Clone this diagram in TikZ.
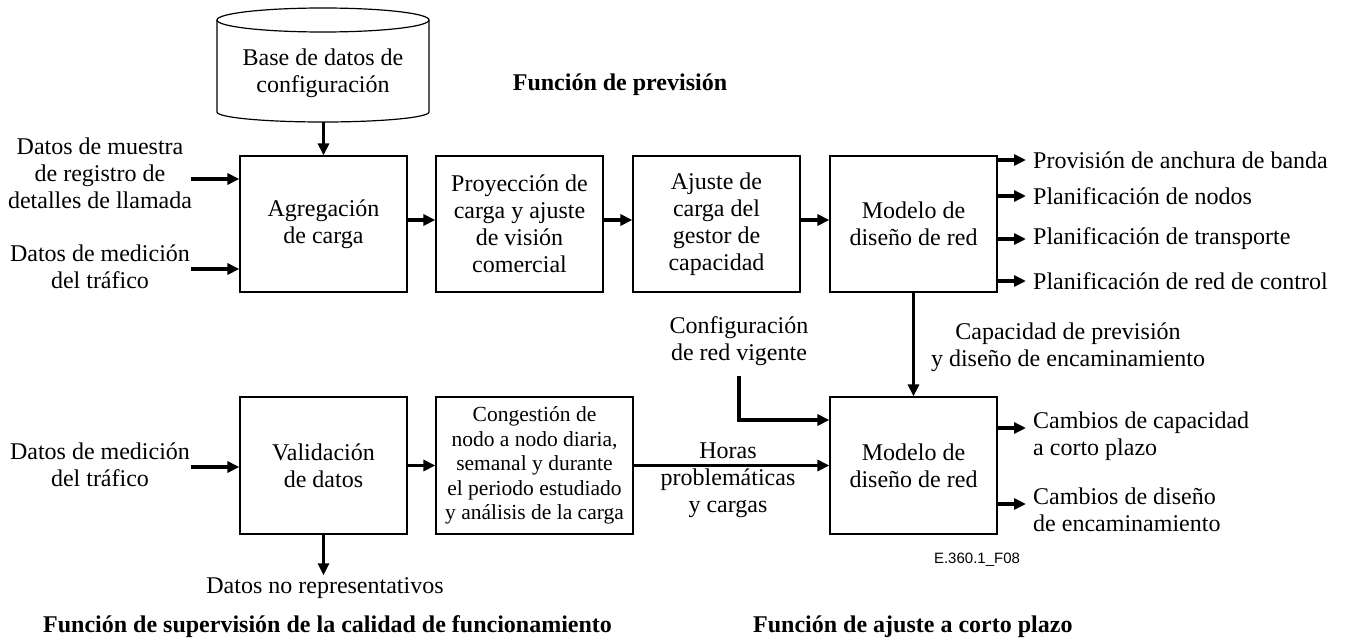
\documentclass[tikz,border=0pt]{standalone}
\usepackage{fontspec}
\setmainfont{Liberation Serif}
\newfontfamily\figsans{Liberation Sans}
\usetikzlibrary{arrows.meta,calc}
\begin{document}
\begin{tikzpicture}[x=1pt,y=-1pt,
  box/.style={draw,line width=1.2pt,minimum width=167pt,minimum height=136pt,inner sep=2pt,align=center,font=\fontsize{24}{27}\selectfont},
  txt/.style={align=center,inner sep=2pt,font=\fontsize{24}{27}\selectfont},
  arr/.style={line width=3.5pt,-{Triangle[length=12pt,width=11pt]}},
  outarr/.style={arr,shorten >=5pt},
  ttl/.style={font=\fontsize{24}{27}\selectfont\bfseries,inner sep=0pt}]
\useasboundingbox (0,0) rectangle (1346,642);

% boxes
\node[box] (agg) at (323.5,224) {Agregación\\de carga};
\node[box] (proy) at (519.5,224) {Proyección de\\carga y ajuste\\de visión\\comercial};
\node[box] (ajus) at (716.5,224) {Ajuste de\\carga del\\gestor de\\capacidad};
\node[box] (mt) at (913.5,224) {Modelo de\\diseño de red};
\node[box,minimum height=137pt] (val) at (323.5,465.5) {Validación\\de datos};
\node[box,minimum width=197pt,minimum height=137pt,font=\fontsize{21.5}{24.5}\selectfont] (cong) at (534.5,465.5) {Congestión de\\nodo a nodo diaria,\\semanal y durante\\el periodo estudiado\\y análisis de la carga};
\node[box,minimum height=137pt] (mb) at (913.5,465.5) {Modelo de\\diseño de red};

% database cylinder
\draw[line width=1.2pt] (323,20) ellipse[x radius=106pt,y radius=12pt];
\draw[line width=1.2pt] (217,20) -- (217,112) arc[start angle=180,end angle=360,x radius=106pt,y radius=10pt] -- (429,20);
\node[txt] (db) at (323,73.5) {Base de datos de\\configuración};
\coordinate (dbb) at (323.5,122);
\draw[arr] (dbb) -- (dbb |- agg.north);

% top chain
\draw[arr] ([yshift=4pt]agg.east) -- ([yshift=4pt]proy.west);
\draw[arr] ([yshift=4pt]proy.east) -- ([yshift=4pt]ajus.west);
\draw[arr] ([yshift=4pt]ajus.east) -- ([yshift=4pt]mt.west);

% inputs
\node[txt] (in1) at (100,173) {Datos de muestra\\de registro de\\detalles de llamada};
\node[txt] (in2) at (100,266.5) {Datos de medición\\del tráfico};
\node[txt] (in3) at (100,465) {Datos de medición\\del tráfico};
\coordinate (s1) at (191,179);
\coordinate (s2) at (191,269);
\coordinate (s3) at (191,467);
\draw[arr] (s1) -- (s1 -| agg.west);
\draw[arr] (s2) -- (s2 -| agg.west);
\draw[arr] (s3) -- (s3 -| val.west);

% top outputs
\node[txt,anchor=west] (o1) at (1031,160) {Provisión de anchura de banda};
\node[txt,anchor=west] (o2) at (1031,196) {Planificación de nodos};
\node[txt,anchor=west] (o3) at (1031,239) {Planificación de transporte};
\node[txt,anchor=west] (o4) at (1031,281) {Planificación de red de control};
\draw[outarr] (o1.west -| mt.east) -- (o1.west);
\draw[outarr] (o2.west -| mt.east) -- (o2.west);
\draw[outarr] (o3.west -| mt.east) -- (o3.west);
\draw[outarr] (o4.west -| mt.east) -- (o4.west);

% vertical link
\draw[arr] (mt.south) -- (mb.north);
\node[txt] (cap) at (1068,347) {Capacidad de previsión\\y diseño de encaminamiento};

% current configuration
\node[txt] (conf) at (739,341) {Configuración\\de red vigente};
\coordinate (c1) at (739,376);
\coordinate (c2) at (739,420);
\draw[arr] (c1) -- (c2) -- (c2 -| mb.west);

% bottom chain
\draw[arr] (val.east) -- (cong.west);
\draw[arr] (cong.east) -- (mb.west |- cong.east);
\node[txt] (horas) at (728,480) {Horas\\problemáticas\\y cargas};

% bottom outputs
\node[txt,anchor=west,align=left] (b1) at (1031,436) {Cambios de capacidad\\a corto plazo};
\node[txt,anchor=west,align=left] (b2) at (1031,510) {Cambios de diseño\\de encaminamiento};
\draw[outarr] ([yshift=8pt]b1.west -| mb.east) -- ([yshift=8pt]b1.west);
\draw[outarr] ([yshift=6pt]b2.west -| mb.east) -- ([yshift=6pt]b2.west);

% rejected data
\node[txt] (nr) at (325,588) {Datos no representativos};
\draw[arr] (val.south) -- (val.south |- nr.north);

% titles
\node[ttl] (t1) at (620,85) {Función de previsión};
\node[ttl,anchor=west] (t2) at (43,627) {Función de supervisión de la calidad de funcionamiento};
\node[ttl,anchor=west] (t3) at (753,627) {Función de ajuste a corto plazo};
\node[font=\figsans\fontsize{15}{18}\selectfont,inner sep=0pt] (fig) at (977,560) {E.360.1\_F08};
\end{tikzpicture}
\end{document}
